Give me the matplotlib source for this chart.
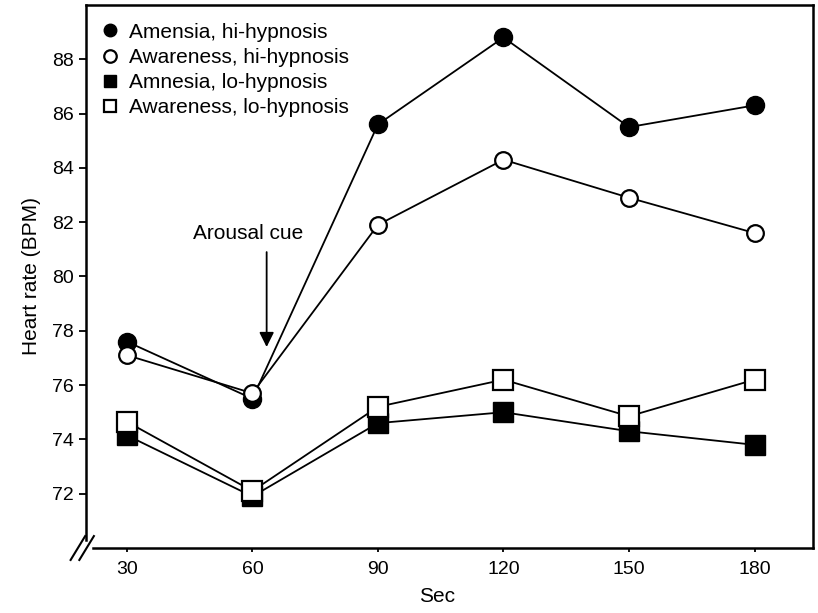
import matplotlib
matplotlib.use("Agg")
import matplotlib.pyplot as plt

plt.rcParams['font.family'] = ['Liberation Sans', 'DejaVu Sans']

# time points (sec)
sec = [30, 60, 90, 120, 150, 180]

# heart rate (BPM) per group
amnesia_hi = [77.6, 75.5, 85.6, 88.8, 85.5, 86.3]
aware_hi = [77.1, 75.7, 81.9, 84.3, 82.9, 81.6]
amnesia_lo = [74.15, 71.9, 74.6, 75.0, 74.3, 73.8]
aware_lo = [74.65, 72.1, 75.2, 76.2, 74.85, 76.2]

labels = ['Amensia, hi-hypnosis', 'Awareness, hi-hypnosis',
          'Amnesia, lo-hypnosis', 'Awareness, lo-hypnosis']
yticks = [72, 74, 76, 78, 80, 82, 84, 86, 88]

fig = plt.figure(figsize=(8.18, 6.13), dpi=100)
ax = fig.add_axes([0.105, 0.106, 0.889, 0.886])

# filled first so the open markers sit on top
h1, = ax.plot(sec, amnesia_hi, '-o', color='black', lw=1.3, ms=13,
              mfc='black', mec='black', zorder=3)
h3, = ax.plot(sec, amnesia_lo, '-s', color='black', lw=1.3, ms=14,
              mfc='black', mec='black', zorder=3)
h2, = ax.plot(sec, aware_hi, '-o', color='black', lw=1.3, ms=12,
              mfc='white', mec='black', mew=1.6, zorder=4)
h4, = ax.plot(sec, aware_lo, '-s', color='black', lw=1.3, ms=14,
              mfc='white', mec='black', mew=1.6, zorder=4)

leg = ax.legend([h1, h2, h3, h4], labels, loc='upper left', frameon=False,
                fontsize=15, handlelength=0.7, handletextpad=0.55,
                labelspacing=0.3, borderaxespad=0.4,
                bbox_to_anchor=(0.0, 0.998))
for h in leg.legend_handles:
    h.set_linestyle('none')
    h.set_markersize(9)

# arousal cue arrow
ax.annotate('', xy=(63.4, 77.3), xytext=(63.4, 81.0),
            arrowprops=dict(arrowstyle='-|>', color='black', lw=1.3,
                            mutation_scale=22))
ax.text(59, 81.6, 'Arousal cue', ha='center', va='center', fontsize=15)

ax.set_xlim(20.2, 194)
ax.set_ylim(70, 90)
ax.set_xticks(sec)
ax.set_yticks(yticks)
ax.tick_params(axis='y', direction='out', length=5, width=1.3, labelsize=14)
ax.tick_params(axis='x', direction='out', length=3, width=1.3, labelsize=14,
               pad=6)
for s in ax.spines.values():
    s.set_linewidth(1.8)
ax.spines['left'].set_bounds(70.3, 90)
ax.spines['bottom'].set_bounds(21.9, 194)

# axis break marks in the lower-left corner
for dx in (-0.012, 0.0):
    ax.plot([dx - 0.009, dx + 0.011], [-0.022, 0.022], transform=ax.transAxes,
            color='black', lw=1.5, clip_on=False)

ax.set_ylabel('Heart rate (BPM)', fontsize=15, labelpad=8)
ax.set_xlabel('Sec', fontsize=15)
ax.xaxis.set_label_coords(0.483, -0.072)

fig.savefig('out.png', dpi=100)
